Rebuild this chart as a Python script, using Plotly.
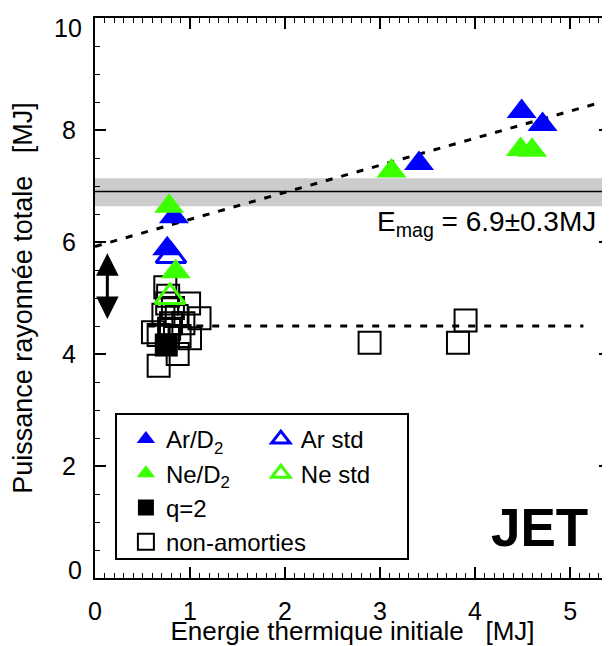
import plotly.graph_objects as go

# ---------------- data ----------------
ar_d2_x = [0.83, 0.76, 3.41, 4.49, 4.71]
ar_d2_y = [6.45, 5.88, 7.40, 8.33, 8.10]

ne_d2_x = [0.78, 0.85, 3.12, 4.48, 4.60]
ne_d2_y = [6.64, 5.47, 7.27, 7.65, 7.64]

ar_std_x = [0.80]
ar_std_y = [5.75]

ne_std_x = [0.79]
ne_std_y = [5.02]

q2_x = [0.75]
q2_y = [4.16]

nonamort_x = [0.74, 0.77, 0.76, 0.99, 0.82, 0.72, 0.86, 1.10, 0.80, 0.93,
              0.61, 0.67, 0.89, 1.00, 0.87, 0.67, 0.78, 2.89, 3.82, 3.90]
nonamort_y = [5.19, 5.04, 4.90, 4.90, 4.82, 4.70, 4.68, 4.64, 4.55, 4.55,
              4.39, 4.34, 4.32, 4.28, 4.00, 3.79, 4.45, 4.20, 4.20, 4.60]

fit_x = [0.0, 5.42]
fit_y = [5.92, 8.54]

threshold_x = [0.56, 5.14]
threshold_y = [4.5, 4.5]

emag_value = 6.9
emag_band = [6.64, 7.14]

arrow_x = 0.13
arrow_y = [4.6, 5.8]

x_range = [0, 5.42]
y_range = [0, 10]
y_tickvals = [0, 2, 4, 6, 8, 10]
y_ticktext = ["", "2", "4", "6", "8", ""]   # end labels placed as annotations (nudged inward)
y_end_labels = [(0, "0", 8), (10, "10", -10)]

BLUE = "#0000ff"
GREEN = "#3cff00"
FONT = "Liberation Sans, Arial, sans-serif"

fig = go.Figure()

# fit line and threshold line
fig.add_trace(go.Scatter(x=fit_x, y=fit_y, mode="lines", showlegend=False,
                         line=dict(color="black", width=3, dash="7px,9px"), hoverinfo="skip"))
fig.add_trace(go.Scatter(x=threshold_x, y=threshold_y, mode="lines", showlegend=False,
                         line=dict(color="black", width=3, dash="7px,9px"), hoverinfo="skip"))

# markers
fig.add_trace(go.Scatter(x=nonamort_x, y=nonamort_y, mode="markers", name="non-amorties",
                         legend="legend", legendrank=4,
                         marker=dict(symbol="square-open", size=22, color="black",
                                     line=dict(width=2, color="black"))))
fig.add_trace(go.Scatter(x=q2_x, y=q2_y, mode="markers", name="q=2",
                         legend="legend", legendrank=3,
                         marker=dict(symbol="square", size=23, color="black")))
fig.add_trace(go.Scatter(x=ar_d2_x, y=ar_d2_y, mode="markers", name="Ar/D<sub>2</sub>",
                         legend="legend", legendrank=1,
                         marker=dict(symbol="triangle-up", size=26, color=BLUE)))
fig.add_trace(go.Scatter(x=ar_std_x, y=ar_std_y, mode="markers", name="Ar std",
                         legend="legend2", legendrank=1,
                         marker=dict(symbol="triangle-up-open", size=26, color=BLUE,
                                     line=dict(width=3, color=BLUE))))
fig.add_trace(go.Scatter(x=ne_d2_x, y=ne_d2_y, mode="markers", name="Ne/D<sub>2</sub>",
                         legend="legend", legendrank=2,
                         marker=dict(symbol="triangle-up", size=26, color=GREEN)))
fig.add_trace(go.Scatter(x=ne_std_x, y=ne_std_y, mode="markers", name="Ne std",
                         legend="legend2", legendrank=2,
                         marker=dict(symbol="triangle-up-open", size=26, color=GREEN,
                                     line=dict(width=3, color=GREEN))))

# band + Emag line
fig.add_shape(type="rect", xref="paper", x0=0, x1=1, yref="y",
              y0=emag_band[0], y1=emag_band[1], fillcolor="#cccccc",
              line=dict(width=0), layer="below")
fig.add_shape(type="line", xref="paper", x0=0, x1=1, yref="y",
              y0=emag_value, y1=emag_value, line=dict(color="black", width=1.5), layer="below")

# legend frame
fig.add_shape(type="rect", xref="paper", yref="paper", x0=0.0408, x1=0.6078,
              y0=0.0339, y1=0.2929, line=dict(color="black", width=2),
              fillcolor="rgba(0,0,0,0)")

# annotations
fig.add_annotation(x=5.29, y=6.33, xref="x", yref="y", xanchor="right", yanchor="middle",
                   text="E<sub>mag</sub> = 6.9±0.3MJ", showarrow=False,
                   font=dict(family=FONT, size=28, color="black"))
fig.add_annotation(x=4.68, y=0.91, xref="x", yref="y", text="<b>JET</b>", showarrow=False,
                   font=dict(family=FONT, size=53, color="black"))
fig.add_annotation(x=arrow_x, y=arrow_y[1], ax=arrow_x, ay=arrow_y[0],
                   xref="x", yref="y", axref="x", ayref="y", text="",
                   showarrow=True, arrowhead=2, arrowside="end+start",
                   arrowsize=1.5, arrowwidth=3, arrowcolor="black")
for yv, txt, shift in y_end_labels:
    fig.add_annotation(x=0, y=yv, xref="paper", yref="y", xanchor="right", yanchor="middle",
                       text=txt, showarrow=False, xshift=-11, yshift=shift,
                       font=dict(family=FONT, size=25, color="black"))

axis_common = dict(
    showline=True, linecolor="black", linewidth=2, mirror="ticks",
    ticks="inside", ticklen=11, tickwidth=1.5, tickcolor="black",
    showgrid=False, zeroline=False, ticklabeloverflow="allow",
    tickfont=dict(family=FONT, size=25, color="black"),
)

fig.update_xaxes(range=x_range, dtick=1, tick0=0,
                 minor=dict(dtick=0.1, ticks="inside", ticklen=5, tickwidth=1, tickcolor="black", showgrid=False),
                 ticklabelstandoff=10,
                 title=dict(text="Energie thermique initiale\u00a0\u00a0 [MJ]",
                            font=dict(family=FONT, size=26, color="black"), standoff=6),
                 **axis_common)
fig.update_yaxes(range=y_range, tickmode="array", tickvals=y_tickvals, ticktext=y_ticktext,
                 minor=dict(dtick=0.5, ticks="inside", ticklen=5, tickwidth=1, tickcolor="black", showgrid=False),
                 ticklabelstandoff=12,
                 title=dict(text="Puissance rayonnée totale\u00a0\u00a0 [MJ]",
                            font=dict(family=FONT, size=27, color="black"), standoff=33),
                 **axis_common)

leg_common = dict(xanchor="left", yanchor="top", bgcolor="rgba(0,0,0,0)", borderwidth=0,
                  font=dict(family=FONT, size=24, color="black"), tracegroupgap=0,
                  itemwidth=30, traceorder="normal")
fig.update_layout(
    width=602, height=638,
    margin=dict(l=87, r=0, t=10, b=68, autoexpand=False),
    paper_bgcolor="white", plot_bgcolor="white",
    font=dict(family=FONT, color="black"),
    legend=dict(x=0.06, y=0.2875, **leg_common),
    legend2=dict(x=0.322, y=0.2875, **leg_common),
    showlegend=True,
)

fig.write_html("out.html")
